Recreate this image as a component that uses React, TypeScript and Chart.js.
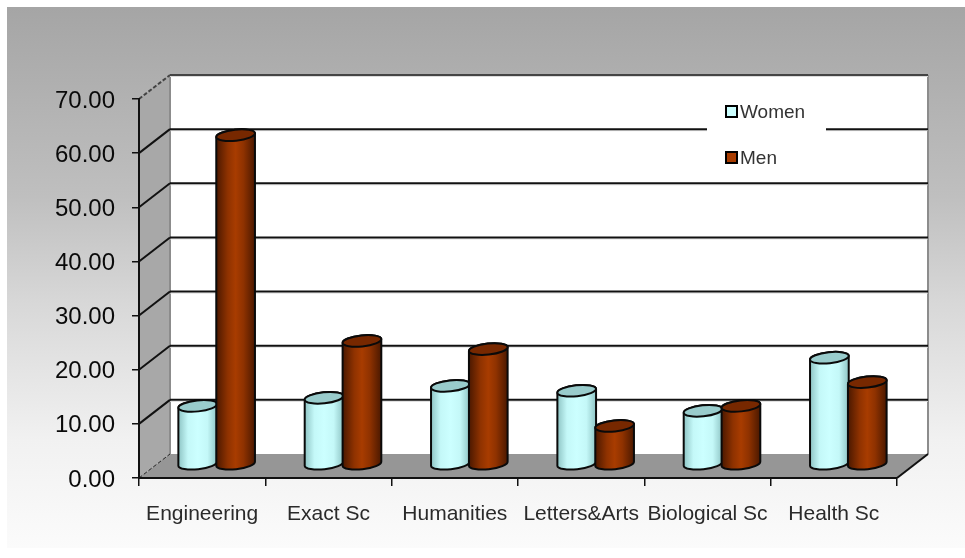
import React, { useEffect, useRef } from "react";
import { Chart, registerables } from "chart.js";

Chart.register(...registerables);

const categories = ["Engineering", "Exact Sc", "Humanities", "Letters&Arts", "Biological Sc", "Health Sc"];
const women = [11.1, 12.6, 14.8, 13.9, 10.2, 20.0];
const men = [61.1, 23.1, 21.6, 7.4, 11.1, 15.5];

const DEPTH_X = 31;
const DEPTH_Y = -24;
const FONT = "'Liberation Sans', Arial, sans-serif";

const palette: Record<string, { stops: [number, string][]; top: string }> = {
  Women: {
    stops: [[0, "#8ec4c4"], [0.25, "#c4f8f8"], [0.5, "#ccffff"], [0.75, "#c4f8f8"], [1, "#8ec4c4"]],
    top: "#99cccc",
  },
  Men: {
    stops: [[0, "#4a1800"], [0.3, "#8f3200"], [0.5, "#a83c00"], [0.7, "#8f3200"], [1, "#4a1800"]],
    top: "#772800",
  },
};

const background = {
  id: "background3d",
  beforeDraw(chart: any) {
    const { ctx, width, height, chartArea: a, scales } = chart;
    ctx.save();
    const g = ctx.createLinearGradient(0, 7, 0, 548);
    g.addColorStop(0, "#a5a5a5");
    g.addColorStop(0.35, "#bfbfbf");
    g.addColorStop(0.55, "#d8d8d8");
    g.addColorStop(0.8, "#f1f1f1");
    g.addColorStop(1, "#fbfbfb");
    ctx.fillStyle = "#ffffff";
    ctx.fillRect(0, 0, width, height);
    ctx.fillStyle = g;
    ctx.fillRect(7, 7, width - 7, 541);

    const y = scales.y;
    const top = y.getPixelForValue(70);
    const bottom = y.getPixelForValue(0);
    // side wall
    ctx.fillStyle = "#a8a8a8";
    ctx.beginPath();
    ctx.moveTo(a.left, top);
    ctx.lineTo(a.left + DEPTH_X, top + DEPTH_Y);
    ctx.lineTo(a.left + DEPTH_X, bottom + DEPTH_Y);
    ctx.lineTo(a.left, bottom);
    ctx.closePath();
    ctx.fill();
    // back wall
    ctx.fillStyle = "#ffffff";
    ctx.fillRect(a.left + DEPTH_X, top + DEPTH_Y, a.right - a.left, bottom - top);
    // floor
    ctx.fillStyle = "#969696";
    ctx.beginPath();
    ctx.moveTo(a.left, bottom);
    ctx.lineTo(a.left + DEPTH_X, bottom + DEPTH_Y);
    ctx.lineTo(a.right + DEPTH_X, bottom + DEPTH_Y);
    ctx.lineTo(a.right, bottom);
    ctx.closePath();
    ctx.fill();
    // wall edges
    ctx.strokeStyle = "#8c8c8c";
    ctx.lineWidth = 2;
    ctx.beginPath();
    ctx.moveTo(a.left + DEPTH_X, top + DEPTH_Y);
    ctx.lineTo(a.left + DEPTH_X, bottom + DEPTH_Y);
    ctx.moveTo(a.right + DEPTH_X, top + DEPTH_Y);
    ctx.lineTo(a.right + DEPTH_X, bottom + DEPTH_Y);
    ctx.stroke();
    // gridlines
    y.ticks.forEach((t: any) => {
      const py = y.getPixelForValue(t.value);
      const isEnd = t.value === 0 || t.value === 70;
      if (t.value !== 0) {
        ctx.strokeStyle = "#dcdcdc";
        ctx.lineWidth = 1;
        ctx.beginPath();
        ctx.moveTo(a.left + DEPTH_X, py + DEPTH_Y + 1.5);
        ctx.lineTo(a.right + DEPTH_X, py + DEPTH_Y + 1.5);
        ctx.stroke();
      }
      ctx.strokeStyle = t.value === 70 ? "#444444" : t.value === 0 ? "#222222" : "#111111";
      ctx.lineWidth = t.value === 0 ? 1 : 2;
      ctx.setLineDash(isEnd ? [4, 2] : []);
      ctx.beginPath();
      ctx.moveTo(a.left, py);
      ctx.lineTo(a.left + DEPTH_X, py + DEPTH_Y);
      ctx.stroke();
      ctx.setLineDash([]);
      if (t.value !== 0) {
        ctx.beginPath();
        ctx.moveTo(a.left + DEPTH_X, py + DEPTH_Y);
        ctx.lineTo(a.right + DEPTH_X, py + DEPTH_Y);
        ctx.stroke();
      }
    });
    // floor right diagonal
    ctx.strokeStyle = "#111111";
    ctx.lineWidth = 2;
    ctx.beginPath();
    ctx.moveTo(a.right, bottom);
    ctx.lineTo(a.right + DEPTH_X, bottom + DEPTH_Y);
    ctx.stroke();

    // legend panel and entries
    ctx.fillStyle = "#ffffff";
    ctx.fillRect(707, 88, 119, 87);
    const rows = [112, 158];
    chart.data.datasets.forEach((ds: any, i: number) => {
      const cy = rows[i];
      ctx.fillStyle = ds.backgroundColor;
      ctx.strokeStyle = "#000000";
      ctx.lineWidth = 2;
      ctx.fillRect(726, cy - 6, 11, 11);
      ctx.strokeRect(726, cy - 6, 11, 11);
      ctx.fillStyle = "#333333";
      ctx.font = `19px ${FONT}`;
      ctx.textAlign = "left";
      ctx.textBaseline = "middle";
      ctx.fillText(ds.label, 740, cy + 1);
    });
    ctx.restore();
  },
};

const cylinders = {
  id: "cylinders",
  // The default flat bars are replaced; cylinders go women first so men overlap them.
  beforeDatasetDraw() {
    return false;
  },
  afterDatasetsDraw(chart: any) {
    const { ctx } = chart;
    const rot = (-6 * Math.PI) / 180;
    const dx = DEPTH_X / 2 - 1;
    const dy = DEPTH_Y / 2;
    ctx.save();
    chart.data.datasets.forEach((ds: any, i: number) => {
      const c = palette[ds.label];
      chart.getDatasetMeta(i).data.forEach((el: any) => {
        const { x, y, base, width } = el.getProps(["x", "y", "base", "width"], true);
        const cx = x + dx;
        const rx = width / 2 + 0.5;
        const ry = 5.5;
        const ty = y + dy;
        const by = base + dy - 1.5;
        const g = ctx.createLinearGradient(cx - rx, 0, cx + rx, 0);
        c.stops.forEach(([o, col]) => g.addColorStop(o, col));
        ctx.lineWidth = 2;
        ctx.strokeStyle = "#0a0a0a";
        ctx.fillStyle = g;
        ctx.beginPath();
        ctx.ellipse(cx, by, rx, ry, rot, Math.PI, 0, true);
        ctx.ellipse(cx, ty, rx, ry, rot, 0, Math.PI, true);
        ctx.closePath();
        ctx.fill();
        ctx.stroke();
        ctx.fillStyle = c.top;
        ctx.beginPath();
        ctx.ellipse(cx, ty, rx, ry, rot, 0, Math.PI * 2);
        ctx.fill();
        ctx.stroke();
      });
    });
    ctx.restore();
  },
};

export default function App() {
  const ref = useRef<HTMLCanvasElement>(null);
  useEffect(() => {
    const chart = new Chart(ref.current as HTMLCanvasElement, {
      type: "bar",
      data: {
        labels: categories,
        datasets: [
          { label: "Women", data: women, backgroundColor: "#ccffff" },
          { label: "Men", data: men, backgroundColor: "#a83c00" },
        ],
      },
      options: {
        responsive: false,
        animation: false,
        devicePixelRatio: 1,
        categoryPercentage: 0.6,
        barPercentage: 1,
        layout: { padding: { left: 0, top: 99, right: 68, bottom: 0 } },
        plugins: { legend: { display: false }, title: { display: false }, tooltip: { enabled: false } },
        scales: {
          x: {
            afterFit: (s: any) => { s.height = 80; },
            grid: { drawOnChartArea: false, color: "#111111", tickLength: 8, offset: true, lineWidth: 1.5 },
            border: { color: "#111111", width: 2 },
            ticks: { color: "#2a2a2a", font: { family: FONT, size: 21 }, padding: 16, maxRotation: 0, autoSkip: false },
          },
          y: {
            min: 0,
            max: 70,
            afterFit: (s: any) => { s.width = 139; },
            grid: { drawOnChartArea: false, color: "#111111", tickLength: 7, lineWidth: 1.5 },
            border: { color: "#111111", width: 2 },
            ticks: {
              stepSize: 10,
              color: "#0a0a0a",
              font: { family: FONT, size: 24 },
              padding: 17,
              labelOffset: 2,
              callback: (v: any) => Number(v).toFixed(2),
            },
          },
        },
      },
      plugins: [background, cylinders],
    } as any);
    return () => chart.destroy();
  }, []);
  return (
    <canvas
      ref={ref}
      width={965}
      height={558}
      style={{ position: "absolute", left: 0, top: 0, display: "block" }}
    />
  );
}
